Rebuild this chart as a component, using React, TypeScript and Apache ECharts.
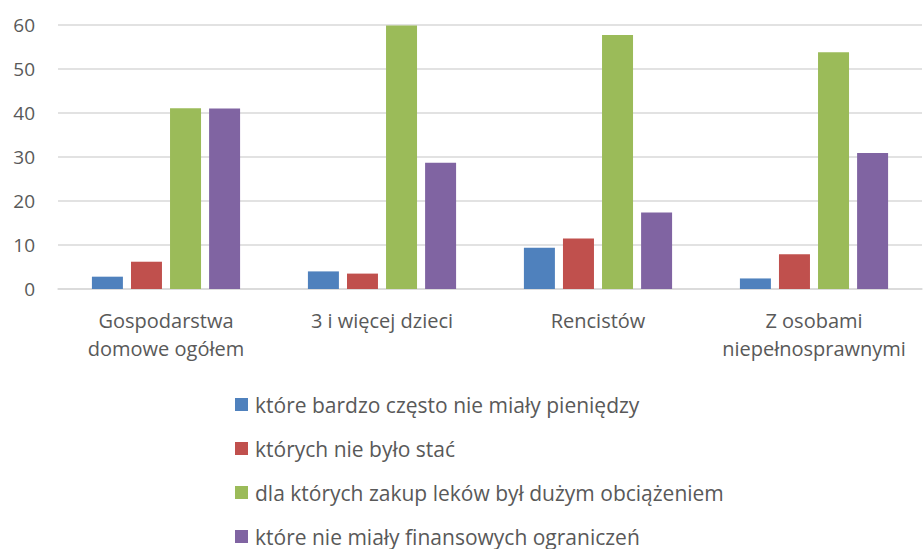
import React, { useEffect, useRef } from "react";
import * as echarts from "echarts";

const categories = [
  "Gospodarstwa\ndomowe ogółem",
  "3 i więcej dzieci",
  "Rencistów",
  "Z osobami\nniepełnosprawnymi",
];
const seriesNames = [
  "które bardzo często nie miały pieniędzy",
  "których nie było stać",
  "dla których zakup leków był dużym obciążeniem",
  "które nie miały finansowych ograniczeń",
];
const seriesColors = ["#4F81BD", "#C0504D", "#9BBB59", "#8064A2"];
const valuesBlue = [2.8, 4.0, 9.4, 2.4];
const valuesRed = [6.2, 3.5, 11.5, 7.9];
const valuesGreen = [41.1, 59.9, 57.7, 53.8];
const valuesPurple = [41.0, 28.7, 17.4, 30.9];
const yTicks = [0, 10, 20, 30, 40, 50, 60];

const FONT = "'Open Sans', 'Noto Sans', sans-serif";

export default function App() {
  const ref = useRef<HTMLDivElement>(null);
  useEffect(() => {
    if (!ref.current) return;
    const chart = echarts.init(ref.current, undefined, { renderer: "svg" });
    const allValues = [valuesBlue, valuesRed, valuesGreen, valuesPurple];
    chart.setOption({
      animation: false,
      textStyle: { fontFamily: FONT, color: "#595959" },
      grid: { left: 58, right: 1, top: 25, bottom: 260, containLabel: false },
      legend: {
        orient: "vertical",
        left: 235,
        top: 394,
        height: 300,
        padding: 0,
        itemWidth: 13,
        itemHeight: 13,
        itemGap: 23,
        icon: "rect",
        textStyle: { fontFamily: FONT, fontSize: 21, color: "#595959", padding: [0, 0, 0, 2] },
        data: seriesNames,
      },
      xAxis: {
        type: "category",
        data: categories,
        axisLine: { lineStyle: { color: "#D9D9D9", width: 1.5 } },
        axisTick: { show: false },
        axisLabel: {
          interval: 0,
          fontFamily: FONT,
          fontSize: 20,
          color: "#595959",
          lineHeight: 28,
          margin: 17,
        },
      },
      yAxis: {
        type: "value",
        min: yTicks[0],
        max: yTicks[yTicks.length - 1],
        interval: 10,
        axisLine: { show: false },
        axisTick: { show: false },
        splitLine: { lineStyle: { color: "#D9D9D9", width: 1.5 } },
        axisLabel: { fontFamily: FONT, fontSize: 19, color: "#595959", margin: 23 },
      },
      series: seriesNames.map((name, i) => ({
        name,
        type: "bar",
        data: allValues[i],
        barWidth: 31,
        barGap: "26%",
        itemStyle: { color: seriesColors[i] },
      })),
    });
    return () => chart.dispose();
  }, []);
  return (
    <div
      ref={ref}
      style={{ position: "fixed", left: 0, top: 0, width: 923, height: 549, background: "#fff" }}
    />
  );
}
